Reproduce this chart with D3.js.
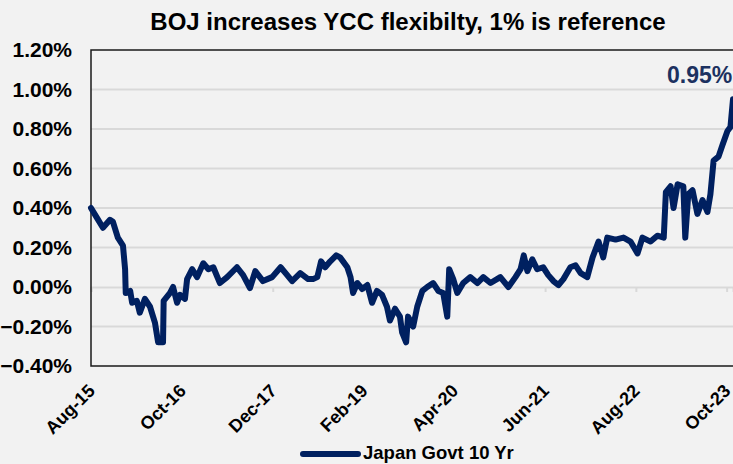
<!DOCTYPE html>
<html>
<head>
<meta charset="utf-8">
<script src="https://cdn.jsdelivr.net/npm/d3@7"></script>
<style>
  body { margin: 0; background: #f2f2f2; }
  svg { display: block; font-family: Arial, "Liberation Sans", sans-serif; }
</style>
</head>
<body>
<div id="chart"></div>
<script>
// Japan 10y govt bond yield, %
const dates = [
  "2015-08-01","2015-08-29","2015-09-26","2015-10-29","2015-11-12","2015-12-05","2015-12-29",
  "2016-01-08","2016-01-11","2016-02-01","2016-02-10","2016-03-03","2016-03-17","2016-04-10",
  "2016-05-04","2016-05-27","2016-06-11","2016-07-04","2016-07-07","2016-08-06","2016-08-20",
  "2016-09-08","2016-09-22","2016-10-15","2016-10-25","2016-11-18","2016-12-11","2017-01-09",
  "2017-02-02","2017-02-25","2017-03-28","2017-05-01","2017-06-16","2017-07-15","2017-08-16",
  "2017-09-10","2017-10-16","2017-11-28","2018-01-07","2018-01-30","2018-03-02","2018-04-09",
  "2018-05-16","2018-06-08","2018-06-28","2018-07-16","2018-08-04","2018-08-28","2018-09-25",
  "2018-10-13","2018-11-16","2018-12-01","2018-12-13","2019-01-02","2019-01-25","2019-02-18",
  "2019-03-12","2019-04-04","2019-04-28","2019-05-21","2019-06-04","2019-06-28","2019-07-21",
  "2019-07-31","2019-08-19","2019-08-28","2019-09-21","2019-10-10","2019-11-03","2019-11-26",
  "2019-12-24","2020-01-17","2020-02-09","2020-02-28","2020-03-08","2020-03-27","2020-04-15",
  "2020-05-13","2020-06-15","2020-07-18","2020-08-15","2020-09-18","2020-11-03","2020-12-11",
  "2021-01-13","2021-02-06","2021-02-21","2021-03-10","2021-04-02","2021-04-25","2021-05-23",
  "2021-06-16","2021-07-10","2021-08-03","2021-08-26","2021-09-28","2021-10-22","2021-11-15",
  "2021-12-16","2022-01-10","2022-02-07","2022-03-01","2022-03-20","2022-04-28","2022-06-04",
  "2022-07-07","2022-08-09","2022-09-01","2022-10-09","2022-11-10","2022-12-10","2022-12-20",
  "2023-01-11","2023-01-25","2023-02-13","2023-03-12","2023-03-21","2023-04-04","2023-04-24",
  "2023-05-17","2023-06-10","2023-07-03","2023-07-17","2023-08-01","2023-08-24","2023-09-12",
  "2023-10-05","2023-10-19","2023-10-31"
];
const yields = [
  0.40,0.35,0.30,0.34,0.33,0.25,0.21,
  0.09,-0.03,-0.02,-0.08,-0.07,-0.13,-0.06,
  -0.10,-0.18,-0.28,-0.28,-0.07,-0.03,0.00,
  -0.08,-0.04,-0.06,0.04,0.09,0.05,0.12,
  0.09,0.10,0.02,0.05,0.10,0.06,-0.005,
  0.08,0.03,0.05,0.10,0.07,0.03,0.07,
  0.04,0.04,0.05,0.13,0.10,0.13,0.16,
  0.15,0.10,0.05,-0.03,0.02,-0.01,0.01,
  -0.08,-0.02,-0.04,-0.10,-0.17,-0.11,-0.15,
  -0.23,-0.28,-0.15,-0.20,-0.10,-0.02,0.00,
  0.02,-0.02,-0.03,-0.15,0.09,0.04,-0.03,
  0.02,0.05,0.02,0.05,0.02,0.05,0.00,
  0.05,0.09,0.16,0.08,0.14,0.09,0.10,
  0.06,0.03,0.01,0.04,0.10,0.11,0.07,
  0.05,0.15,0.23,0.15,0.25,0.24,0.25,
  0.23,0.17,0.25,0.23,0.26,0.25,0.48,
  0.51,0.40,0.52,0.51,0.25,0.47,0.49,
  0.37,0.44,0.38,0.47,0.64,0.66,0.72,
  0.79,0.81,0.95
];
const yTicks = [-0.4, -0.2, 0, 0.2, 0.4, 0.6, 0.8, 1.0, 1.2];
const xTickLabels = ["Aug-15","Oct-16","Dec-17","Feb-19","Apr-20","Jun-21","Aug-22","Oct-23"];
const seriesName = "Japan Govt 10 Yr";
const chartTitle = "BOJ increases YCC flexibilty, 1% is reference";
const lastLabel = "0.95%";

const W = 733, H = 464;
const margin = { top: 50, right: 0, bottom: 98, left: 91 };
const lineColor = "#002060";

const parse = d3.timeParse("%Y-%m-%d");
const data = dates.map((d, i) => ({ date: parse(d), value: yields[i] }));
const tickDates = xTickLabels.map(d3.timeParse("%b-%y"));

const svg = d3.select("#chart").append("svg")
    .attr("width", W)
    .attr("height", H);

svg.append("rect").attr("width", W).attr("height", H).attr("fill", "#f2f2f2");

const x = d3.scaleTime()
    .domain([parse("2015-08-01"), parse("2023-10-31")])
    .range([margin.left, W - margin.right]);

const y = d3.scaleLinear()
    .domain([-0.4, 1.2])
    .range([H - margin.bottom, margin.top]);

// gridlines
svg.append("g")
    .selectAll("line")
    .data(yTicks.filter(t => t !== 0 && t !== 1.2 && t !== -0.4))
    .join("line")
    .attr("x1", margin.left)
    .attr("x2", W)
    .attr("y1", d => y(d))
    .attr("y2", d => y(d))
    .attr("stroke", "#d9d9d9")
    .attr("stroke-width", 2);

// horizontal axis sitting on zero
const xAxis = svg.append("g")
    .attr("transform", `translate(0,${y(0)})`)
    .call(d3.axisBottom(x).tickValues(tickDates).tickSize(5).tickFormat(""));
xAxis.select(".domain").attr("stroke", "#d9d9d9").attr("stroke-width", 2);
xAxis.selectAll(".tick line").attr("stroke", "#d9d9d9").attr("stroke-width", 2);

// plot frame (left, top, bottom)
svg.append("path")
    .attr("d", `M${W + 2},${y(1.2)}H${margin.left}V${y(-0.4)}H${W + 2}`)
    .attr("fill", "none")
    .attr("stroke", "#1a1a1a")
    .attr("stroke-width", 1.5);

// y tick labels
svg.append("g")
    .selectAll("text")
    .data(yTicks)
    .join("text")
    .attr("x", 72)
    .attr("y", d => y(d))
    .attr("dy", "0.35em")
    .attr("text-anchor", "end")
    .attr("font-size", "21px")
    .attr("font-weight", "bold")
    .attr("fill", "#000")
    .text(d => d3.format(".2f")(d) + "%");

// x tick labels, rotated
svg.append("g")
    .selectAll("text")
    .data(tickDates)
    .join("text")
    .attr("transform", d => `translate(${x(d) + 5},${y(-0.4) + 26}) rotate(-45)`)
    .attr("text-anchor", "end")
    .attr("font-size", "18px")
    .attr("font-weight", "bold")
    .attr("fill", "#000")
    .text((d, i) => xTickLabels[i]);

// series line
const line = d3.line()
    .x(d => x(d.date))
    .y(d => y(d.value));

svg.append("path")
    .datum(data)
    .attr("d", line)
    .attr("fill", "none")
    .attr("stroke", lineColor)
    .attr("stroke-width", 6)
    .attr("stroke-linejoin", "round")
    .attr("stroke-linecap", "round");

// last value label
svg.append("text")
    .attr("x", 667)
    .attr("y", 83)
    .attr("font-size", "23px")
    .attr("font-weight", "bold")
    .attr("fill", "#1c3160")
    .text(lastLabel);

// title
svg.append("text")
    .attr("x", 408)
    .attr("y", 30)
    .attr("text-anchor", "middle")
    .attr("font-size", "24px")
    .attr("font-weight", "bold")
    .attr("fill", "#000")
    .text(chartTitle);

// legend
const legend = svg.append("g").attr("transform", "translate(303,454)");
legend.append("line")
    .attr("x1", 0).attr("x2", 55)
    .attr("stroke", lineColor)
    .attr("stroke-width", 6)
    .attr("stroke-linecap", "round");
legend.append("text")
    .attr("x", 60)
    .attr("y", 5)
    .attr("font-size", "18.5px")
    .attr("font-weight", "bold")
    .attr("fill", "#000")
    .text(seriesName);
</script>
</body>
</html>
